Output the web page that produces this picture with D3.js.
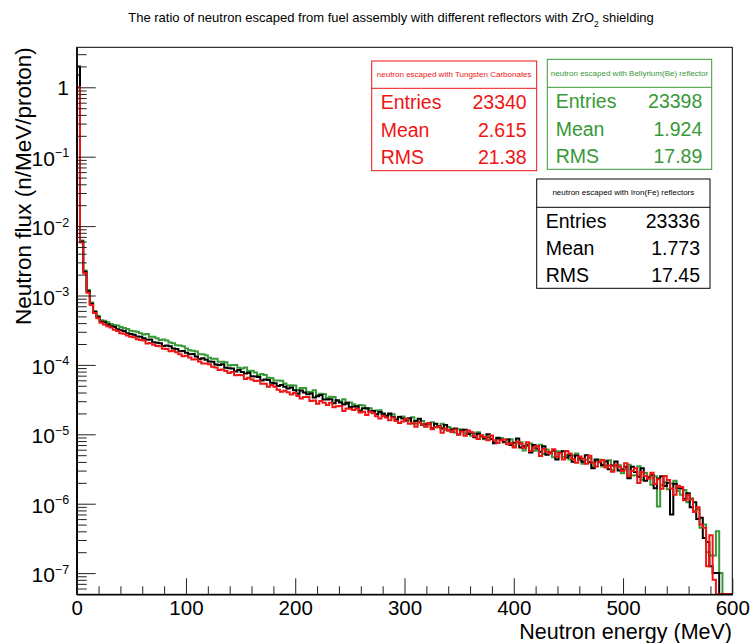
<!DOCTYPE html>
<html><head><meta charset="utf-8">
<script src="https://cdn.jsdelivr.net/npm/d3@7"></script>
<style>
html,body{margin:0;padding:0;background:#fff;}
svg{display:block;font-family:"Liberation Sans",Arial,Helvetica,sans-serif;}
</style></head><body>
<svg id="c" width="753" height="643"></svg>
<script>
// ---------------- data ----------------
const chartTitle = ["The ratio of neutron escaped from fuel assembly with different reflectors with ZrO", "2", " shielding"];
const xAxisTitle = "Neutron energy (MeV)";
const yAxisTitle = "Neutron flux (n/MeV/proton)";
const energyRange = [0, 600];
const binWidthMeV = 3;
const fluxRange = [4.95e-8, 3.77];
const xMajorTicks = [0, 100, 200, 300, 400, 500, 600];
const xMinorTicks = [20,40,60,80,120,140,160,180,220,240,260,280,320,340,360,380,420,440,460,480,520,540,560,580];
const yMajorTicks = [1e-7, 1e-6, 1e-5, 1e-4, 1e-3, 1e-2, 1e-1, 1];
const yTickBase = ["10","10","10","10","10","10","10","1"];
const yTickExp = ["−7","−6","−5","−4","−3","−2","−1",""];

// Iron(Fe) reflectors (black)
const fluxFe = [2.0,6.0e-3,2.2e-3,1.15e-3,7.6e-4,5.8e-4,4.9e-4,
4.18e-4,4.12e-4,3.82e-4,3.62e-4,3.51e-4,3.27e-4,3.17e-4,3.08e-4,2.86e-4,2.78e-4,2.71e-4,2.56e-4,2.54e-4,
2.43e-4,2.31e-4,2.32e-4,2.12e-4,2.09e-4,2.05e-4,1.88e-4,1.90e-4,1.86e-4,1.72e-4,1.70e-4,1.57e-4,1.58e-4,1.50e-4,1.42e-4,1.43e-4,1.32e-4,1.22e-4,1.25e-4,1.19e-4,1.12e-4,1.11e-4,1.01e-4,1.00e-4,
1.02e-4,9.07e-5,8.94e-5,8.87e-5,8.02e-5,8.41e-5,7.93e-5,7.49e-5,7.70e-5,6.86e-5,6.81e-5,6.71e-5,5.96e-5,6.16e-5,6.07e-5,5.52e-5,5.46e-5,4.95e-5,5.12e-5,4.84e-5,4.56e-5,4.74e-5,4.30e-5,
3.83e-5,4.26e-5,4.01e-5,3.77e-5,3.88e-5,3.39e-5,3.52e-5,3.67e-5,3.17e-5,3.18e-5,3.20e-5,2.81e-5,3.09e-5,2.87e-5,2.69e-5,2.86e-5,2.48e-5,2.52e-5,2.54e-5,2.19e-5,2.37e-5,2.38e-5,2.13e-5,2.17e-5,1.94e-5,2.09e-5,1.97e-5,1.84e-5,1.99e-5,1.77e-5,1.59e-5,1.78e-5,1.69e-5,
1.60e-5,1.71e-5,1.44e-5,1.55e-5,1.67e-5,1.37e-5,1.40e-5,1.44e-5,1.22e-5,1.42e-5,1.31e-5,1.21e-5,1.36e-5,1.13e-5,1.17e-5,1.21e-5,9.95e-6,1.13e-5,1.16e-5,1.01e-5,1.05e-5,9.06e-6,1.02e-5,9.55e-6,8.79e-6,1.00e-5,8.55e-6,7.46e-6,8.89e-6,8.38e-6,7.82e-6,8.4e-6,7.02e-6,7.55e-6,
8.73e-6,6.44e-6,6.71e-6,7.10e-6,5.48e-6,7.03e-6,6.24e-6,5.60e-6,6.7e-6,5.07e-6,5.47e-6,5.79e-6,4.34e-6,5.40e-6,5.70e-6,4.63e-6,5.01e-6,4.03e-6,4.94e-6,4.51e-6,4.01e-6,4.99e-6,3.95e-6,3.24e-6,4.32e-6,3.97e-6,3.61e-6,4.09e-6,3.13e-6,3.55e-6,4.06e-6,3.01e-6,3.14e-6,
3.40e-6,2.33e-6,3.4e-6,2.86e-6,2.45e-6,3.23e-6,2.14e-6,2.41e-6,2.60e-6,1.67e-6,2.30e-6,2.48e-6,1.80e-6,2.01e-6,7.0e-7,1.94e-6,1.67e-6,
1.66e-6,1.17e-6,1.41e-6,8.9e-7,1.05e-6,6.0e-7,6.3e-7,3.2e-7,2.8e-7,1.26e-7,1.0e-7,1.0e-7,0,0,0,0];

// Bellyrium(Be) reflector (green)
const fluxBe = [1.5,6.2e-3,2.3e-3,1.2e-3,7.9e-4,6.0e-4,5.1e-4,
4.39e-4,4.34e-4,4.13e-4,3.89e-4,3.77e-4,3.70e-4,3.51e-4,3.41e-4,3.29e-4,3.11e-4,3.06e-4,3.00e-4,2.85e-4,
2.75e-4,2.79e-4,2.55e-4,2.55e-4,2.43e-4,2.29e-4,2.32e-4,2.25e-4,2.10e-4,2.05e-4,1.92e-4,1.91e-4,1.86e-4,1.72e-4,1.62e-4,1.60e-4,1.56e-4,1.42e-4,1.42e-4,1.38e-4,1.27e-4,1.23e-4,1.23e-4,1.11e-4,
1.11e-4,1.09e-4,9.81e-5,9.97e-5,1.00e-4,9.07e-5,8.87e-5,9.17e-5,8.15e-5,8.26e-5,7.78e-5,7.18e-5,7.37e-5,7.16e-5,6.54e-5,6.46e-5,5.97e-5,5.98e-5,5.92e-5,5.39e-5,5.07e-5,5.11e-5,5.05e-5,
4.35e-5,4.63e-5,4.64e-5,4.12e-5,4.06e-5,4.32e-5,3.68e-5,3.83e-5,3.82e-5,3.33e-5,3.48e-5,3.44e-5,3.04e-5,2.99e-5,3.19e-5,2.74e-5,2.87e-5,2.70e-5,2.47e-5,2.64e-5,2.60e-5,2.34e-5,2.37e-5,2.18e-5,2.20e-5,2.23e-5,1.99e-5,1.86e-5,1.93e-5,1.95e-5,1.67e-5,1.79e-5,1.81e-5,
1.57e-5,1.58e-5,1.76e-5,1.42e-5,1.53e-5,1.55e-5,1.30e-5,1.41e-5,1.49e-5,1.27e-5,1.26e-5,1.42e-5,1.16e-5,1.27e-5,1.19e-5,1.06e-5,1.18e-5,1.17e-5,1.03e-5,1.06e-5,9.55e-6,1.03e-5,1.07e-5,9.2e-6,8.47e-6,9.08e-6,9.35e-6,7.64e-6,8.57e-6,8.81e-6,7.59e-6,7.62e-6,8.49e-6,6.86e-6,
7.43e-6,7.66e-6,5.85e-6,6.70e-6,7.40e-6,5.78e-6,5.82e-6,7.05e-6,5.21e-6,6.03e-6,5.5e-6,4.66e-6,5.65e-6,5.71e-6,4.69e-6,5.02e-6,4.32e-6,4.95e-6,5.30e-6,4.26e-6,3.78e-6,4.30e-6,4.54e-6,3.36e-6,4.07e-6,4.31e-6,3.45e-6,3.52e-6,4.23e-6,3.05e-6,3.46e-6,3.57e-6,2.74e-6,
3.12e-6,3.65e-6,2.54e-6,2.58e-6,3.46e-6,2.21e-6,2.77e-6,2.4e-6,1.87e-6,2.49e-6,9.1e-7,1.85e-6,2.03e-6,1.61e-6,1.96e-6,2.15e-6,1.53e-6,
1.35e-6,1.58e-6,1.05e-6,1.2e-6,7.9e-7,8.3e-7,4.5e-7,5.0e-7,2.0e-7,1.8e-7,1.8e-7,4.0e-7,1.0e-7,0,0,0];

// Tungsten Carbonates (red)
const fluxWC = [1.0,5.8e-3,2.1e-3,1.1e-3,7.3e-4,5.6e-4,4.7e-4,
4.06e-4,3.82e-4,3.62e-4,3.47e-4,3.22e-4,3.09e-4,2.87e-4,2.81e-4,2.66e-4,2.54e-4,2.50e-4,2.34e-4,2.29e-4,
2.24e-4,2.03e-4,2.06e-4,1.95e-4,1.87e-4,1.86e-4,1.71e-4,1.69e-4,1.57e-4,1.60e-4,1.52e-4,1.42e-4,1.33e-4,1.35e-4,1.28e-4,1.20e-4,1.21e-4,1.12e-4,1.05e-4,1.05e-4,1.02e-4,9.38e-5,9.14e-5,8.45e-5,
8.59e-5,8.20e-5,7.66e-5,7.91e-5,7.08e-5,7.13e-5,7.07e-5,6.26e-5,6.55e-5,6.17e-5,5.87e-5,5.92e-5,5.33e-5,5.35e-5,4.86e-5,5.13e-5,4.84e-5,4.39e-5,4.10e-5,4.24e-5,4.05e-5,3.75e-5,3.95e-5,
3.56e-5,3.29e-5,3.44e-5,3.45e-5,3.03e-5,3.06e-5,2.75e-5,3.01e-5,2.86e-5,2.65e-5,2.84e-5,2.45e-5,2.54e-5,2.55e-5,2.17e-5,2.36e-5,2.34e-5,2.24e-5,2.33e-5,2.06e-5,2.12e-5,1.90e-5,2.12e-5,2.01e-5,1.82e-5,1.69e-5,1.83e-5,1.74e-5,1.59e-5,1.75e-5,1.56e-5,1.45e-5,1.53e-5,
1.67e-5,1.42e-5,1.47e-5,1.28e-5,1.48e-5,1.41e-5,1.28e-5,1.44e-5,1.18e-5,1.26e-5,1.30e-5,1.05e-5,1.21e-5,1.14e-5,1.08e-5,1.17e-5,9.95e-6,1.10e-5,9.53e-6,1.13e-5,1.07e-5,9.38e-6,8.55e-6,9.68e-6,9.18e-6,8.18e-6,9.62e-6,8.22e-6,7.50e-6,8.24e-6,8.45e-6,7.18e-6,7.43e-6,6.46e-6,
7.87e-6,7.31e-6,6.34e-6,7.69e-6,5.74e-6,6.41e-6,6.76e-6,4.88e-6,6.19e-6,5.62e-6,5.28e-6,6.07e-6,4.75e-6,5.33e-6,4.33e-6,5.77e-6,5.31e-6,4.42e-6,3.88e-6,4.78e-6,4.45e-6,3.78e-6,4.92e-6,3.90e-6,3.43e-6,4.02e-6,4.25e-6,3.33e-6,3.56e-6,2.88e-6,3.66e-6,3.41e-6,2.96e-6,
3.84e-6,2.49e-6,2.96e-6,3.23e-6,1.99e-6,2.86e-6,2.5e-6,2.29e-6,2.79e-6,1.92e-6,2.26e-6,1.64e-6,2.50e-6,2.19e-6,1.65e-6,1.35e-6,1.82e-6,
1.74e-6,1.12e-6,1.32e-6,1.15e-6,7.6e-7,8.9e-7,5.0e-7,4.5e-7,1.26e-7,3.5e-7,8e-8,0,0,0,0,0];

const statNames = ["Entries", "Mean", "RMS"];
const statsWC = ["23340", "2.615", "21.38"];
const statsBe = ["23398", "1.924", "17.89"];
const statsFe = ["23336", "1.773", "17.45"];
const titleWC = "neutron escaped with Tungsten Carbonates";
const titleBe = "neutron escaped with Bellyrium(Be) reflector";
const titleFe = "neutron escaped with Iron(Fe) reflectors";

// ---------------- layout ----------------
const COL_RED = "#f01414", COL_GREEN = "#379937", COL_BLACK = "#000000";
const XL = 76.7, XR = 732.3, YT = 47.3, YB = 594.3;
const svg = d3.select("#c");
const x = d3.scaleLinear().domain(energyRange).range([XL, XR]);
const y = d3.scaleLog().domain(fluxRange).range([YB, YT]);

svg.append("rect").attr("width",753).attr("height",643).attr("fill","#fff");

// title
const tt = svg.append("text").attr("x", 391).attr("y", 22).attr("text-anchor","middle")
  .attr("font-size", 13).attr("fill","#000");
tt.append("tspan").text(chartTitle[0]);
tt.append("tspan").attr("dy", 5).attr("font-size", 8.5).text(chartTitle[1]);
tt.append("tspan").attr("dy", -5).text(chartTitle[2]);

// histograms
svg.append("clipPath").attr("id","clip").append("rect")
  .attr("x",XL).attr("y",YT).attr("width",XR-XL).attr("height",YB-YT);
function histPoints(vals){
  const pts = [[energyRange[0], null]];
  vals.forEach((v,i)=>pts.push([energyRange[0]+i*binWidthMeV, v]));
  pts.push([energyRange[0]+vals.length*binWidthMeV, vals[vals.length-1]]);
  pts.push([energyRange[0]+vals.length*binWidthMeV, null]);
  return pts;
}
const yv = v => (v==null || v<=fluxRange[0]) ? YB : y(Math.min(v, fluxRange[1]));
const line = d3.line().x(d=>x(d[0])).y(d=>yv(d[1])).curve(d3.curveStepAfter);
const gH = svg.append("g").attr("clip-path","url(#clip)");
[[fluxBe, COL_GREEN],[fluxFe, COL_BLACK],[fluxWC, COL_RED]].forEach(([vals,col])=>{
  gH.append("path").attr("d", line(histPoints(vals))).attr("fill","none")
    .attr("stroke", col).attr("stroke-width", 2).attr("stroke-linejoin","miter");
});

// frame
svg.append("rect").attr("x",XL).attr("y",YT).attr("width",XR-XL).attr("height",YB-YT)
  .attr("fill","none").attr("stroke","#000").attr("stroke-width",1);

// y axis ticks
const yMinor = [];
for (let e=-8;e<=0;e++) for (let m=2;m<=9;m++){ const v=m*Math.pow(10,e); if(v>fluxRange[0]&&v<fluxRange[1]) yMinor.push(v); }
const gy = svg.append("g").attr("transform",`translate(${XL},0)`);
gy.call(d3.axisLeft(y).tickValues(yMajorTicks).tickSize(-19).tickSizeOuter(0).tickFormat(""));
gy.append("g").call(d3.axisLeft(y).tickValues(yMinor).tickSize(-10).tickSizeOuter(0).tickFormat(""));
gy.selectAll("path.domain").attr("stroke","#000");
gy.selectAll(".tick line").attr("stroke","#222");

// y labels
yMajorTicks.forEach((v,i)=>{
  if (yTickExp[i]) {
    const t = svg.append("text").attr("text-anchor","start").attr("font-size",21).attr("fill","#000")
      .attr("x", 31.5).attr("y", y(v) + 9);
    t.append("tspan").text(yTickBase[i]);
    t.append("tspan").attr("font-size",12.5).attr("dy",-8.5).text(yTickExp[i]);
  } else {
    svg.append("text").attr("text-anchor","end").attr("font-size",21).attr("fill","#000")
      .attr("x", 69).attr("y", y(v) + 7.8).text(yTickBase[i]);
  }
});

// x axis
const gx = svg.append("g").attr("transform",`translate(0,${YB})`);
gx.call(d3.axisBottom(x).tickValues(xMajorTicks).tickSize(-16).tickSizeOuter(0).tickPadding(6.5).tickFormat(d=>String(d)));
gx.append("g").call(d3.axisBottom(x).tickValues(xMinorTicks).tickSize(-8).tickSizeOuter(0).tickFormat(""));
gx.selectAll("text").attr("font-size",20.5).attr("font-family",'"Liberation Sans",Arial,sans-serif').attr("fill","#000");
gx.attr("font-family",null).attr("font-size",null);
gy.attr("font-family",null).attr("font-size",null);
gx.selectAll("path.domain").attr("stroke","#000");
gx.selectAll(".tick line").attr("stroke","#222");

// axis titles
svg.append("text").attr("x",732).attr("y",639).attr("text-anchor","end")
  .attr("font-size",21.5).attr("fill","#000").text(xAxisTitle);
svg.append("text").attr("transform","translate(31,47.3) rotate(-90)").attr("text-anchor","end")
  .attr("font-size",22.5).attr("fill","#000").text(yAxisTitle);

// stat boxes
function statBox(b, color, title, values){
  const g = svg.append("g");
  g.append("rect").attr("x",b.x0).attr("y",b.y0).attr("width",b.x1-b.x0).attr("height",b.y1-b.y0)
    .attr("fill","#fff").attr("stroke",color).attr("stroke-width",1);
  g.append("line").attr("x1",b.x0).attr("x2",b.x1).attr("y1",b.sep).attr("y2",b.sep).attr("stroke",color);
  g.append("text").attr("x",(b.x0+b.x1)/2).attr("y",b.hy).attr("text-anchor","middle")
    .attr("font-size",8).attr("fill",color).text(title);
  statNames.forEach((n,i)=>{
    g.append("text").attr("x",b.lx).attr("y",b.rows[i]).attr("font-size",19.5).attr("fill",color).text(n);
    g.append("text").attr("x",b.vx).attr("y",b.rows[i]).attr("text-anchor","end").attr("font-size",19.5).attr("fill",color).text(values[i]);
  });
}
statBox({x0:371.7,y0:61,x1:536.7,y1:170.7,sep:88.3,hy:76.5,rows:[109.3,136.7,164.3],lx:380.7,vx:526.7}, COL_RED, titleWC, statsWC);
statBox({x0:547.3,y0:59.3,x1:711.7,y1:169.3,sep:87.3,hy:75.5,rows:[108.3,135.7,163.3],lx:555.7,vx:702.3}, COL_GREEN, titleBe, statsBe);
statBox({x0:536.7,y0:179,x1:710,y1:288.3,sep:207.3,hy:195,rows:[228.3,255,281.7],lx:545.7,vx:700}, COL_BLACK, titleFe, statsFe);
</script>
</body></html>
